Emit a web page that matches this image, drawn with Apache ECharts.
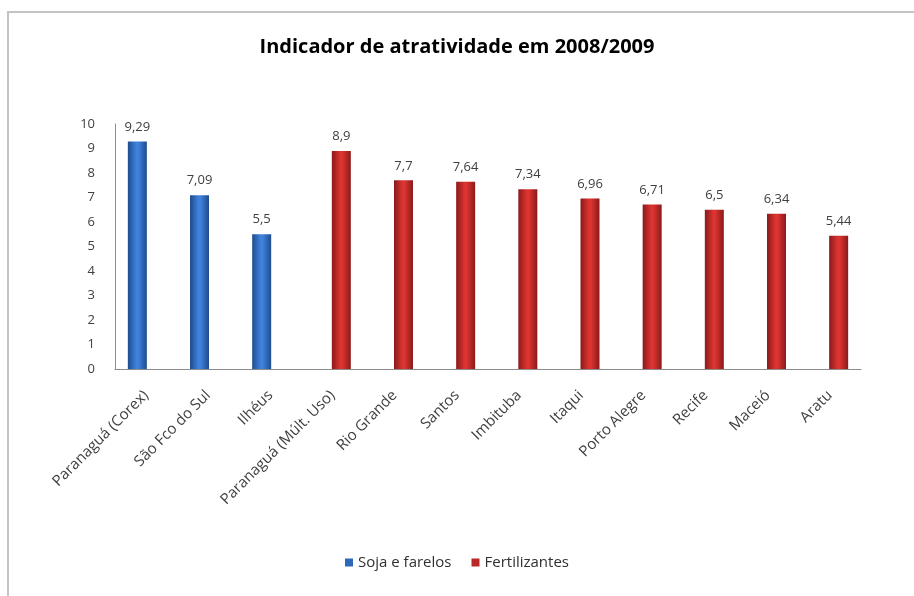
<!DOCTYPE html>
<html>
<head>
<meta charset="utf-8">
<script src="https://cdn.jsdelivr.net/npm/echarts@6/dist/echarts.min.js"></script>
<style>
  html, body { margin: 0; padding: 0; background: #fff; }
  #chart { width: 914px; height: 596px; }
</style>
</head>
<body>
<div id="chart"></div>
<script>
// Ports and their attractiveness index, 2008/2009
const categories = [
  'Paranaguá (Corex)', 'São Fco do Sul', 'Ilhéus', 'Paranaguá (Múlt. Uso)',
  'Rio Grande', 'Santos', 'Imbituba', 'Itaqui', 'Porto Alegre', 'Recife', 'Maceió', 'Aratu'
];
const sojaValues = [9.29, 7.09, 5.5, null, null, null, null, null, null, null, null, null];
const fertValues = [null, null, null, 8.9, 7.7, 7.64, 7.34, 6.96, 6.71, 6.5, 6.34, 5.44];
const yTicks = [0, 10, 1];

const FONT = '"Open Sans", sans-serif';

function cylinder(edge, mid) {
  return new echarts.graphic.LinearGradient(0, 0, 1, 0, [
    { offset: 0, color: edge },
    { offset: 0.45, color: mid },
    { offset: 0.55, color: mid },
    { offset: 1, color: edge }
  ]);
}

function fmt(v) {
  return String(v).replace('.', ',');
}

const chart = echarts.init(document.getElementById('chart'), null, { renderer: 'canvas' });

const labelStyle = {
  show: true,
  position: 'top',
  distance: 8,
  fontFamily: FONT,
  fontSize: 13,
  color: '#404040',
  formatter: p => fmt(p.value)
};

chart.setOption({
  backgroundColor: '#ffffff',
  animation: false,
  graphic: [{
    type: 'rect',
    shape: { x: 8, y: 12, width: 930, height: 620 },
    style: { fill: 'none', stroke: '#c4c4c4', lineWidth: 2 },
    silent: true
  }],
  title: {
    text: 'Indicador de atratividade em 2008/2009',
    left: 'center',
    top: 32,
    textStyle: { fontFamily: FONT, fontSize: 20, fontWeight: 'bold', color: '#000' }
  },
  legend: {
    bottom: 21,
    left: 'center',
    itemWidth: 8,
    itemHeight: 8,
    itemGap: 20,
    icon: 'rect',
    textStyle: { fontFamily: FONT, fontSize: 15, color: '#303030' },
    data: [
      { name: 'Soja e farelos', itemStyle: { color: '#2f68b8' } },
      { name: 'Fertilizantes', itemStyle: { color: '#b82828' } }
    ]
  },
  grid: { left: 115, right: 53, top: 124, bottom: 227 },
  xAxis: {
    type: 'category',
    data: categories,
    axisLine: { lineStyle: { color: '#8c8c8c', width: 1 } },
    axisTick: { show: false },
    axisLabel: {
      interval: 0,
      rotate: 45,
      margin: 24,
      fontFamily: FONT,
      fontSize: 15,
      color: '#404040'
    }
  },
  yAxis: {
    type: 'value',
    min: yTicks[0],
    max: yTicks[1],
    interval: yTicks[2],
    splitLine: { show: false },
    axisLine: { show: true, lineStyle: { color: '#8c8c8c', width: 1 } },
    axisTick: { show: false },
    axisLabel: {
      margin: 20,
      fontFamily: FONT,
      fontSize: 13,
      color: '#404040'
    }
  },
  series: [
    {
      name: 'Soja e farelos',
      type: 'bar',
      data: sojaValues,
      barWidth: 19,
      barGap: '-8%',
      itemStyle: { color: cylinder('#1d4c8d', '#3f82dc') },
      label: labelStyle
    },
    {
      name: 'Fertilizantes',
      type: 'bar',
      data: fertValues,
      barWidth: 19,
      itemStyle: { color: cylinder('#8a1a1a', '#dc3430') },
      label: labelStyle
    }
  ]
});
</script>
</body>
</html>
